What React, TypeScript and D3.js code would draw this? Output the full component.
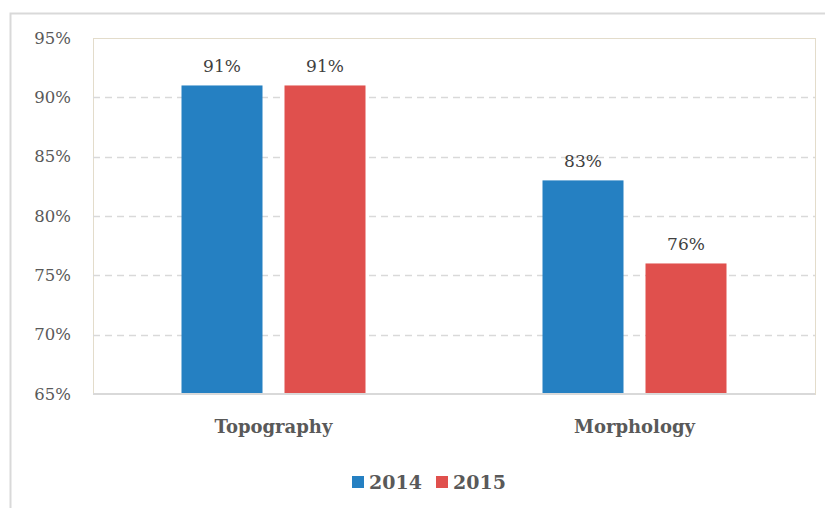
import React, { useEffect, useRef } from "react";
import * as d3 from "d3";

const categories = ["Topography", "Morphology"];
const seriesNames = ["2014", "2015"];
const values2014 = [91, 83];
const values2015 = [91, 76];
const yTicks = [65, 70, 75, 80, 85, 90, 95];
const colors = ["#2580c2", "#e0504d"];

const App = () => {
  const ref = useRef<SVGSVGElement>(null);

  useEffect(() => {
    const width = 825;
    const height = 508;
    const marginLeft = 93;
    const marginRight = 10;
    const marginTop = 38;
    const marginBottom = 114;
    const font = "'DejaVu Serif', 'Liberation Serif', serif";
    const textColor = "#595959";

    const svg = d3
      .select(ref.current)
      .attr("width", width)
      .attr("height", height)
      .attr("viewBox", [0, 0, width, height].join(" "));

    svg.selectAll("*").remove();

    // outer chart frame
    svg
      .append("rect")
      .attr("x", 10.5)
      .attr("y", 13.5)
      .attr("width", 830)
      .attr("height", 520)
      .attr("fill", "white")
      .attr("stroke", "#d9d9d9")
      .attr("stroke-width", 2);

    const x = d3
      .scaleBand()
      .domain(categories)
      .range([marginLeft, width - marginRight]);

    const y = d3
      .scaleLinear()
      .domain([65, 95])
      .range([height - marginBottom, marginTop]);

    const outer = (x.bandwidth() - 184) / 2;
    const inner = d3
      .scaleBand()
      .domain(seriesNames)
      .range([outer, x.bandwidth() - outer])
      .paddingInner(22 / 103)
      .paddingOuter(0);

    // plot frame
    svg
      .append("rect")
      .attr("x", marginLeft + 0.5)
      .attr("y", y(95) + 0.5)
      .attr("width", width - marginRight - marginLeft)
      .attr("height", y(65) - y(95))
      .attr("fill", "none")
      .attr("stroke", "#e3dccb")
      .attr("stroke-width", 1);

    // gridlines
    svg
      .append("g")
      .selectAll("line")
      .data(yTicks.filter((t) => t !== 65 && t !== 95))
      .join("line")
      .attr("x1", marginLeft)
      .attr("x2", width - marginRight)
      .attr("y1", (d) => Math.round(y(d)) + 0.5)
      .attr("y2", (d) => Math.round(y(d)) + 0.5)
      .attr("stroke", "#d9d9d9")
      .attr("stroke-width", 1.5)
      .attr("stroke-dasharray", "7,5");

    // y axis labels
    const yAxis = svg
      .append("g")
      .attr("transform", `translate(${marginLeft - 19},0)`)
      .call(
        d3
          .axisLeft(y)
          .tickValues(yTicks)
          .tickSize(0)
          .tickFormat((d) => `${d}%`)
      );
    yAxis.select(".domain").remove();
    yAxis
      .selectAll("text")
      .style("font-family", font)
      .style("font-size", "16.5px")
      .attr("fill", textColor);

    const series = [values2014, values2015];

    // bars
    seriesNames.forEach((name, si) => {
      const g = svg.append("g").attr("fill", colors[si]);
      g.selectAll("rect")
        .data(categories)
        .join("rect")
        .attr("x", (c) => (x(c) as number) + (inner(name) as number))
        .attr("width", inner.bandwidth())
        .attr("y", (c, i) => y(series[si][i]))
        .attr("height", (c, i) => y(65) - y(series[si][i]));

      svg
        .append("g")
        .selectAll("text")
        .data(categories)
        .join("text")
        .attr("x", (c) => (x(c) as number) + (inner(name) as number) + inner.bandwidth() / 2)
        .attr("y", (c, i) => y(series[si][i]) - 13)
        .attr("text-anchor", "middle")
        .style("font-family", font)
        .style("font-size", "17px")
        .attr("fill", "#404040")
        .text((c, i) => `${series[si][i]}%`);
    });

    // x axis line
    svg
      .append("line")
      .attr("x1", marginLeft)
      .attr("x2", width - marginRight)
      .attr("y1", y(65))
      .attr("y2", y(65))
      .attr("stroke", "#d9d9d9")
      .attr("stroke-width", 2);

    // category labels
    const xAxis = svg
      .append("g")
      .attr("transform", `translate(0,${y(65)})`)
      .call(d3.axisBottom(x).tickSize(0).tickPadding(26));
    xAxis.select(".domain").remove();
    xAxis
      .selectAll("text")
      .style("font-family", font)
      .style("font-size", "18px")
      .attr("font-weight", "bold")
      .attr("fill", textColor);

    // legend
    const legendX = [352, 436];
    const legend = svg
      .append("g")
      .selectAll("g")
      .data(seriesNames)
      .join("g")
      .attr("transform", (d, i) => `translate(${legendX[i]},476)`);
    legend
      .append("rect")
      .attr("width", 12)
      .attr("height", 12)
      .attr("fill", (d, i) => colors[i]);
    legend
      .append("text")
      .attr("x", 17)
      .attr("y", 13)
      .style("font-family", font)
      .style("font-size", "19px")
      .attr("font-weight", "bold")
      .attr("fill", textColor)
      .text((d) => d);
  }, []);

  return (
    <div style={{ position: "absolute", left: 0, top: 0 }}>
      <svg ref={ref} style={{ display: "block" }}></svg>
    </div>
  );
};

export default App;
